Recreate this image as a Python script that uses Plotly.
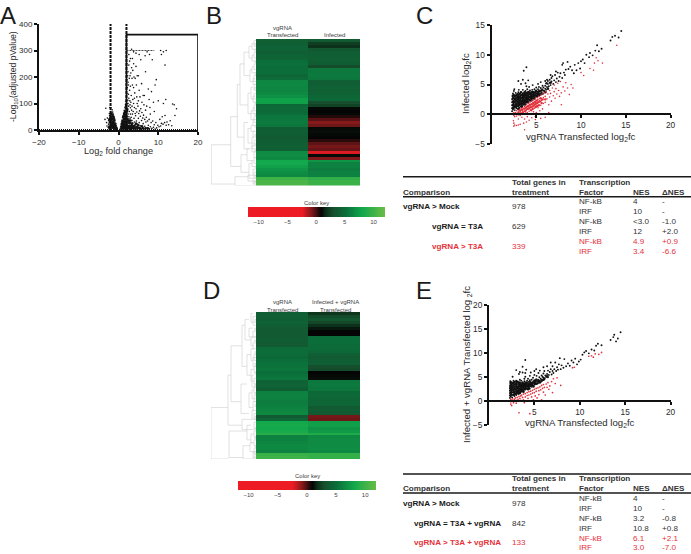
import plotly.graph_objects as go

W, H = 691, 554
FONT = "Liberation Sans"
INK = "#2a2a2a"
RED = "#e5323b"
DOT_RED = "#e0313c"

# ---------- panel A values ----------
volcano_ticks_x = [-20, -10, 0, 10, 20]
volcano_ticks_y = [0, 100, 200, 300, 400]
volcano_floor_x = [-20, 20]
volcano_floor_y = [0, 0]
volcano_cap_x = [2, 9]
volcano_cap_y = [300, 300]
volcano_box_x = [2, 2, 20, 20]
volcano_box_y = [0, 360, 360, 0]
volcano_cut_x = [-2, -2, None, 2, 2]
volcano_cut_y = [0, 400, None, 0, 400]
volcano_points = [
 (-3,28),(-3.4,40),(-2.9,15),(-2.6,10),(-2.8,45),(-2.5,22),(-2.5,35),(-2.4,5),(-2.4,15),(-3.2,82),(-2.2,85),(-2.3,62),(-2.2,45),(-2.3,28),(-2.2,12),(-2.1,5),
 (-2.05,20),(-2,35),(-2,52),(-1.95,70),(-1.9,84),(-1.9,60),(-1.85,42),(-1.85,26),(-1.8,12),(-1.8,4),(-1.7,20),(-1.7,35),(-1.7,50),(-1.65,65),(-1.6,76),(-1.6,8),
 (-1.55,28),(-1.5,44),(-1.5,58),(-1.45,68),(-1.4,16),(-1.4,34),(-1.35,48),(-1.3,60),(-1.3,5),(-1.25,24),(-1.2,38),(-1.15,52),(-1.1,12),(-1.05,30),(-1,42),(-1,4),
 (-0.95,20),(-0.9,34),(-0.85,10),(-0.8,26),(-0.75,4),(-0.7,16),(-0.65,24),(-0.6,8),(-0.55,15),(-0.5,4),(-0.45,10),(-0.4,3),(-0.35,6),
 (0.4,3),(0.5,7),(0.55,14),(0.6,4),(0.65,22),(0.7,10),(0.75,30),(0.8,4),(0.85,18),(0.9,38),(0.95,8),(1,26),(1,46),(1.05,14),(1.1,34),(1.1,4),(1.15,54),(1.2,22),(1.25,42),(1.25,8),
 (1.3,64),(1.35,30),(1.4,50),(1.4,14),(1.45,74),(1.5,38),(1.5,4),(1.55,60),(1.55,22),(1.6,84),(1.65,46),(1.65,10),(1.7,70),(1.7,30),(1.75,96),(1.8,54),(1.8,16),(1.85,80),(1.85,38),
 (1.9,108),(1.9,4),(1.95,62),(1.95,24),(2,90),(2,125),(2,44),(2.05,12),(2.1,70),(2.1,138),(2.15,32),(2.2,100),(2.2,52),(2.25,6),(2.3,80),(2.3,20),(2.35,112),(2.4,42),(2.4,60),
 (2.5,10),(2.5,30),(2.55,90),(2.6,50),(2.7,18),(2.7,70),(2.75,34),(2.8,4),(2.85,110),(2.9,24),(2.9,44),(3,12),(3,60),(3,84),(3.1,30),(3.2,6),(3.2,48),(3.3,20),(3.4,36),(3.5,10),(3.5,60),
 (3.6,26),(3.7,4),(3.8,16),(3.9,44),(4,30),(4.1,8),(4.2,20),(4.3,54),(4.4,12),(4.5,34),(4.6,4),(4.8,22),(5,10),(5,44),(5.2,28),(5.4,6),(5.6,16),(5.8,36),(6,10),(6.2,24),(6.4,4),(6.6,14),(6.9,30),(7.2,8),(7.5,18),(7.8,5),(8,12),(8.4,6),(8.8,10),(9.2,4),(9.6,8),
 (2.2,160),(2.4,180),(2.1,190),(2.5,135),(2.8,150),(3.2,130),(3.6,115),(3,165),(3.4,195),(2.9,205),(2.4,220),(2.6,245),(2.1,250),(3.3,235),(3.9,200),(4.2,195),(4.5,170),(3.8,160),(4.1,140),(4.6,125),(5,110),(5.2,150),(4.9,90),(5.6,80),(5.9,105),(6.2,130),(6.5,130),(6.8,75),(7.1,90),(7.5,155),(8,60),(8.3,145),(9,70),(9.2,170),(9.5,190),(10,110),(10.4,40),(11,50),(11.3,100),(11.7,55),(11.9,115),(10.8,25),(12.2,30),(13,35),(13.6,98),(14,95),(14.2,55),(14.6,80),
 (2.6,285),(3,270),(3.3,305),(3.8,295),(4.4,290),(5.2,285),(5.6,265),(6.7,280),(7.2,295),(7.8,285),(8.5,265),(6.8,220),(4.4,240),(3.8,250),(5,205),(10.6,300),(10.8,285),(11.3,295),(12,300),(11.7,245),
 (2.4,100),(2.6,120),(2.9,95),(3.1,105),(3.3,75),(3.4,90),(3.7,70),(3.8,100),(4,85),(4.2,62),(4.4,80),(4.6,68),(4.7,100),(5.1,62),(5.3,72),(5.5,52),(5.9,66),(6.1,45),(6.3,56),(6.6,40),(7,48),(7.3,34),(7.7,40),(8.2,28),(8.6,34),(9,20),(9.4,28),(9.9,18),(10.2,12),(10.6,15),(11.2,22),(11.6,28),(12,18),(12.6,20),(13.4,16),(2.3,205),(2.7,195),(3.1,215),(3.6,225),(2.8,260),(3.5,270),(2.5,170),(3.5,170),(4.7,205),(5.8,175),(6.4,95),(7.7,115),(4,120),(5.4,125),(8.8,105),(7.9,85),
]
volcano_core = [
 (-2.3,10),(-2.3,40),(-2.1,30),(-2.1,55),(-1.95,15),(-1.95,45),(-1.75,28),(-1.75,60),(-1.6,18),(-1.6,40),(-1.5,10),(-1.5,25),(-1.4,52),(-1.3,30),(-1.3,14),(-1.2,8),(-1.2,46),(-1.1,22),(-1.05,38),(-1,14),(-0.9,6),(-0.8,18),(-0.7,8),(-0.55,6),
 (0.8,12),(0.9,24),(1,6),(1,34),(1.1,18),(1.2,32),(1.2,50),(1.3,10),(1.3,24),(1.4,40),(1.4,60),(1.5,16),(1.5,30),(1.5,52),(1.6,8),(1.6,42),(1.6,68),(1.7,20),(1.7,56),(1.8,6),(1.8,30),(1.8,70),(1.9,16),(1.9,46),(1.9,90),(2,6),(2,30),(2,70),
 (2.2,14),(2.2,40),(2.2,76),(2.4,6),(2.4,28),(2.6,14),(2.6,36),(2.8,10),(2.8,26),(3,4),(3,36),(3.2,16),(3.4,8),(3.4,24),(3.6,14),(3.8,6),(4,16),(4.2,6),(4.4,24),(4.6,12),(4.8,6),(5,18),(5.3,8),(5.6,5),(5.9,14),(6.2,6),(6.8,6),(7.4,6),
]

# ---------- panel B values ----------
heat_b_transfected = [4.1,4.0,4.2,4.2,4.0,4.2,4.3,5.0,5.1,5.0,4.9,5.0,4.4,4.8,6.3,6.4,6.2,6.2,6.4,6.8,7.6,7.6,4.6,4.8,4.7,5.0,5.4,5.5,5.6,5.4,3.9,4.0,3.9,3.8,3.9,4.0,4.1,4.0,6.5,6.6,6.4,8.0,8.1,7.6,7.0,6.6,6.4,10.0,10.5,10.5]
heat_b_infected = [3.8,2.2,1.8,3.5,4.0,4.0,4.1,4.0,3.9,2.9,5.5,5.5,5.6,5.4,4.0,4.0,4.2,4.1,4.2,4.5,4.6,3.0,2.4,0.9,0.8,0.9,0.4,-0.3,-0.9,-0.6,0.9,1.0,0.9,0.8,0.3,-0.4,-0.7,-0.5,-2.2,0.9,-0.8,7.0,6.0,6.0,5.7,6.0,6.0,9.3,9.8,9.8]
dendro_b = [
 (44.7,35.6,49,25.3,21),(25.3,26,43,18.7,15),(21,46.5,49.5,8,3),(18.7,15,33,16,12),(16,8,22,12,8),(15,39,45,9,7),
 (12,4,12,7,6),(12,28,37,8,7),(9,37,41,5,4),(8,18,25,5,4),(8,46,48,3,0),(8,30,35,5,3),(7,2,6,4,3),(7,42,47,4,3),(6,10,14,4,2),
 (5,16,20,3,2),(5,24,27,3,0),(5,29,31,3,1),(4,33,37,2,1),(4,1,3,2,0),(4,5,7,2,0),(4,36,38,2,0),(4,41,43,2,0),(4,9,11,2,0),(3,13,15,1,0),(3,19,21,1,0),(3,23,25,1,0),
 (3,27,29,1,0),(3,31,33,0,0),(3,44,46,1,0),(3,47,49,0,0),(2,0,2,0,0),(2,4,6,0,0),(2,8,10,0,0),(2,12,14,0,0),(2,15,17,0,0),(2,18,20,0,0),(2,22,24,0,0),(2,26,28,0,0),(2,34,36,0,0),(2,38,40,0,0),(2,40,42,0,0),(2,45,47,0,0),(2,48,49.5,0,0),
 (1.2,1,1.6,0,0),(1.2,3,3.6,0,0),(1.2,7,7.6,0,0),(1.2,11,11.6,0,0),(1.2,16,16.6,0,0),(1.2,21,21.6,0,0),(1.2,25,25.6,0,0),(1.2,29,29.6,0,0),(1.2,32,32.6,0,0),(1.2,35,35.6,0,0),(1.2,37,37.6,0,0),(1.2,43,43.6,0,0),(1.2,46,46.6,0,0),(1.2,48,48.6,0,0),
]

# ---------- panel D values ----------
heat_d_transfected = [4.0,4.1,4.0,4.2,4.0,3.8,3.8,3.7,3.8,3.9,3.7,3.8,4.8,4.9,4.8,4.6,5.0,5.2,5.2,5.4,5.0,5.2,5.4,4.2,4.3,4.2,3.9,6.0,6.1,6.0,5.7,5.8,6.0,6.2,6.4,3.7,4.5,8.0,8.2,8.0,8.3,9.0,5.9,6.0,6.2,6.4,6.4,6.1,9.7,10.0]
heat_d_infected = [1.9,2.8,3.5,2.6,1.8,1.2,0.8,0.8,5.0,5.0,5.0,4.8,4.8,4.6,4.0,3.8,4.0,4.0,3.0,2.8,0.8,0.9,1.0,5.5,5.6,5.5,5.4,4.6,4.7,4.5,4.5,4.4,3.8,3.9,3.7,-0.7,-0.6,7.5,7.6,7.0,7.2,8.6,6.4,6.5,6.5,6.5,6.6,6.4,9.5,9.5]
dendro_d = [
 (45,32,49.5,28,27),(28,21,38,25,14),(27,40,49,9,13),(25,11,30,14,15),(15,24,34,9,7),(14,36,39.5,4,2),(14,4,18,11,9),(13,45,49.5,6,3),(11,2,9,7,5),(9,14,21,5,5),
 (9,38,43,5,5),(7,27,32,4,3),(7,5,8,3,0),(6,44,47,3,2),(5,0,3,3,0),(5,8,11,3,2),(5,12,16,2,3),(5,19,23,2,2),(5,41,44,2,2),(4,21,25,2,0),(4,26,29,2,0),(4,33,36,2,0),
 (3,1,4,0,0),(3,6,8,0,0),(3,10,12,0,0),(3,15,18,0,0),(3,30,33,0,0),(3,47,49,0,0),(2,14,16,0,0),(2,18,20,0,0),(2,22,24,0,0),(2,25,27,0,0),(2,28,30,0,0),(2,34,36,0,0),(2,37,39,0,0),(2,40,42,0,0),(2,43,45,0,0),(2,46,48,0,0),(2,48.5,49.5,0,0),
 (1.2,2,2.6,0,0),(1.2,5,5.6,0,0),(1.2,9,9.6,0,0),(1.2,13,13.6,0,0),(1.2,17,17.6,0,0),(1.2,20,20.6,0,0),(1.2,24,24.6,0,0),(1.2,27,27.6,0,0),(1.2,31,31.6,0,0),(1.2,35,35.6,0,0),(1.2,39,39.6,0,0),(1.2,42,42.6,0,0),(1.2,45,45.6,0,0),(1.2,47,47.6,0,0),
]

key_values = [-12,-10,-8,-6,-4,-2.5,-1.5,-1,-0.5,0,0.4,0.8,1.2,1.6,2,3,4,5,6,7,8,9,10,11,12]
key_ticks = [-10,-5,0,5,10]
key_colors = [[0,"#ed1c24"],[0.396,"#ed1c24"],[0.46,"#8a1a1c"],[0.533,"#050505"],[0.583,"#0e3a1f"],[0.625,"#164f2d"],[0.708,"#0b6e3a"],[0.833,"#12a84c"],[1,"#6dbd45"]]

# ---------- panel C values ----------
scatter_ticks_x = [5,10,15,20]
scatter_c_ticks_y = [-5,0,5,10,15]
scatter_e_ticks_y = [-5,0,5,10,15,20]
c_black = [
 (2.3,.5),(2.3,1),(2.3,1.5),(2.3,2),(2.3,2.5),(2.35,3),(2.4,3.5),(2.4,.8),(2.45,1.3),(2.45,1.8),(2.5,2.3),(2.5,2.8),(2.5,3.3),(2.5,3.9),(2.55,4.2),(2.6,.7),(2.6,1.1),(2.65,1.6),(2.65,2.1),(2.7,2.6),(2.7,3.1),(2.7,3.6),
 (2.8,1),(2.8,1.4),(2.85,1.9),(2.85,2.4),(2.9,2.9),(2.9,3.4),(2.95,.9),(3,1.3),(3,1.7),(3,2.2),(3,2.7),(3,3.2),(3,3.7),(3.05,4.1),(3.1,1.1),(3.15,1.5),(3.15,2),(3.2,2.5),(3.2,3),(3.2,3.5),(3.25,1.3),
 (3.3,1.8),(3.3,2.3),(3.35,2.8),(3.35,3.3),(3.4,1.5),(3.4,2),(3.45,2.5),(3.5,3),(3.5,3.5),(3.5,4.1),(3.55,1.6),(3.6,2.1),(3.6,2.6),(3.65,3.1),(3.7,1.9),(3.7,2.4),(3.75,2.9),(3.75,3.4),(3.8,3.9),(3.8,2),(3.85,2.6),
 (3.9,3.1),(3.95,2.2),(4,2.7),(4,3.2),(4,3.7),(4,4.2),(4.05,2.3),(4.1,2.9),(4.15,3.4),(4.2,2.5),(4.2,3),(4.25,3.6),(4.3,4),(4.35,2.7),(4.4,3.2),(4.4,3.7),(4.45,2.6),(4.5,3),(4.5,3.5),(4.55,4.1),(4.6,2.9),(4.65,3.3),(4.7,3.8),
 (4.75,3),(4.8,3.4),(4.8,4.2),(4.85,2.9),(4.9,3.6),(5,3.1),(5,3.5),(5,4),(5,4.5),(5.05,3.2),(5.1,3.8),(5.2,3.3),(5.2,4.2),(5.25,3.6),(5.3,4.6),(5.4,3.5),(5.4,4),(5.5,3.8),(5.5,4.4),(5.6,3.6),(5.65,4.2),(5.7,4.8),(5.8,4),(5.8,4.5),
 (5.9,3.9),(6,4.3),(6,4.8),(6.1,4.1),(6.2,4.6),(6.3,5.1),(6.3,5.6),(6.4,4.7),(6.5,5.3),(6.5,5.8),(6.6,4.9),(6.7,5.5),(6.7,6.1),(6.8,6.4),(6.9,5.1),(7,5.7),(7.1,6.6),(7.2,5.4),(7.3,6),(7.4,7),(7.5,5.6),(7.6,6.3),(7.7,6.9),
 (7.9,6.1),(7.9,8.3),(8,8.6),(8.1,7),(8.2,6.6),(8.3,7.5),(8.5,8.8),(8.6,7.6),(8.8,8),(9,7.4),(9.2,6.9),(9.3,8.3),(9.5,7.4),(9.7,8.6),(9.9,7.7),(10,8.9),(10.2,9.2),(10.4,8.6),(10.6,10),(10.9,9.6),(11,10.3),(11.3,9.9),(11.6,10.7),(11.8,11.6),(12,10.6),(12.3,11),
 (13.3,12.4),(13.5,13),(13.8,13.2),(14.2,12.9),(14.5,14),(3,5.6),(3.3,5.1),(3.5,5.8),(3.8,5.2),(3.9,4.7),(4.1,5.7),(3.6,7.3),(3.9,7.9),(4.2,4.6),(5.5,5.4),(5.2,5.1),(6,5.6),(4.6,4.9),(6.2,5.8),(7.2,7.2),(6.6,6.6),
]
c_black_core = [
 (2.4,1.05),(2.4,1.55),(2.4,2.15),(2.4,2.7),(2.4,3.15),(2.55,1.4),(2.55,2),(2.6,2.55),(2.6,3.05),(2.75,1.25),(2.75,1.7),(2.75,2.25),(2.8,2.8),(2.8,3.25),(2.95,1.45),(2.95,2),(2.95,2.5),(3,3),(3.05,.85),(3.1,1.75),(3.1,2.3),(3.1,2.8),(3.1,3.35),
 (3.25,1.7),(3.25,2.15),(3.25,2.7),(3.3,3.15),(3.3,3.7),(3.4,1.25),(3.45,1.8),(3.45,2.25),(3.5,2.75),(3.5,3.25),(3.6,1.85),(3.6,2.35),(3.6,2.9),(3.65,3.4),(3.7,3.7),(3.75,1.65),(3.75,2.2),(3.8,2.75),(3.85,3.25),(3.9,2),(3.9,2.45),(3.95,2.85),(3.95,3.5),
 (4.05,2.05),(4.1,2.55),(4.1,3.15),(4.15,3.75),(4.3,2.3),(4.3,2.9),(4.3,3.4),(4.45,2.35),(4.45,2.85),(4.5,3.25),(4.55,3.75),(4.65,2.65),(4.7,3.1),(4.75,3.55),(4.8,2.65),(4.9,3.2),(4.95,3.85),(5.1,3),(5.15,3.5),(5.3,3.2),(5.3,3.85),(5.45,3.3),(5.6,4),(5.7,3.45),(6,3.7),(6.15,5.2),(6.3,4.3),(6.6,5.3),
]
c_red = [
 (2.4,.1),(2.5,.3),(2.5,-.2),(2.6,-.4),(2.45,-1.1),(2.5,-1.5),(2.6,-1.8),(2.8,-1.9),(3,-1.8),(3.2,-1.7),(3.6,-1.5),(3.9,-1.3),(2.7,.3),(2.8,.6),(2.8,-.3),(2.9,.1),(3,.5),(3,-.1),(3,-.8),(3.1,.8),(3.2,.3),(3.2,-.2),(3.3,.7),(3.3,1),
 (3.4,.2),(3.4,-.5),(3.5,.6),(3.5,1.1),(3.6,.9),(3.6,.1),(3.7,1.3),(3.7,.5),(3.7,-.8),(3.8,1.1),(3.8,.2),(3.9,1.6),(3.9,.7),(4,1.3),(4,.3),(4,-.4),(4.1,1.8),(4.1,.9),(4.2,1.4),(4.2,.5),(4.2,-1),(4.3,2),(4.3,1.1),(4.4,1.6),(4.4,.1),
 (4.5,2.2),(4.5,1.2),(4.5,.6),(4.5,-.6),(4.6,1.9),(4.7,2.4),(4.7,1.4),(4.7,.4),(4.8,2.1),(4.8,1),(4.9,2.6),(4.9,1.6),(4.9,-.4),(5,2.3),(5,1.2),(5,.3),(5.1,2.8),(5.1,1.8),(5.2,2.5),(5.2,1.1),(5.3,3),(5.3,2),(5.4,.6),(5.4,2.6),
 (5.5,3.2),(5.5,1.5),(5.6,2.3),(5.7,3.4),(5.7,.9),(5.8,2.8),(5.8,1.8),(5.9,3.6),(6,3),(6,2),(6,-.5),(6.1,3.8),(6.2,2.6),(6.3,3.4),(6.4,1.6),(6.5,4),(6.5,2.9),(6.6,3.5),(6.7,2.2),(6.8,4.4),(6.9,3.1),(7,4.9),(7,3.8),(7.1,2.7),
 (7.2,4.3),(7.3,3.4),(7.4,5.2),(7.5,4),(7.6,3),(7.7,5.5),(7.8,3.6),(7.8,1.6),(8,4.6),(8.2,3.9),(8.3,5.3),(8.5,4.4),(8.7,3.3),(8.9,5),(9.1,4.4),(10,7),(10.3,6.5),(11,7.7),(11.4,7.4),(11.5,8.6),(11.7,9.5),(11.9,9),(12.4,8.6),(14,11.6),(6.4,.3),(2.5,-2),(3.7,-2.6),(4.9,-.9),(5.5,-.7),
]
c_red_core = [
 (3,.2),(3.2,.6),(3.4,.8),(3.5,.35),(3.7,.95),(3.8,.6),(3.9,1.2),(4,.9),(4.1,1.4),(4.2,1),(4.3,1.6),(4.4,1.2),(4.4,.7),(4.5,1.7),(4.6,1.3),(4.6,.9),(4.7,1.9),(4.8,1.6),(4.9,2.1),(4.9,1.2),(5,1.8),(5.1,1.4),(5.1,2.3),(5.2,2),(5.3,1.5),(5.4,2.2),(5.5,2.7),(5.6,1.9),(5.7,2.5),(6,2.5),
]
# ---------- panel E values ----------
e_black = [
 (2.3,.6),(2.3,1.1),(2.3,1.6),(2.3,2.1),(2.3,2.6),(2.3,3.1),(2.35,3.6),(2.35,4.1),(2.4,.9),(2.45,1.4),(2.45,1.9),(2.5,2.4),(2.5,2.9),(2.5,3.4),(2.5,3.9),(2.55,.7),(2.6,1.2),(2.6,1.7),(2.65,2.2),(2.65,2.7),(2.7,3.2),(2.7,3.7),(2.7,4.2),
 (2.8,1),(2.8,1.5),(2.85,2),(2.85,2.5),(2.9,3),(2.9,3.5),(2.95,4),(3,1.2),(3,1.7),(3,2.2),(3,2.7),(3,3.2),(3,3.7),(3,4.2),(3.1,1.5),(3.15,2),(3.15,2.5),(3.2,3),(3.2,3.5),(3.2,4),(3.25,1.4),(3.3,1.9),(3.3,2.4),(3.35,2.9),(3.35,3.4),(3.4,3.9),(3.4,4.4),
 (3.45,1.7),(3.5,2.2),(3.5,2.7),(3.5,3.2),(3.5,3.7),(3.55,4.2),(3.6,1.9),(3.6,2.4),(3.65,2.9),(3.7,3.4),(3.7,3.9),(3.75,2.1),(3.8,2.6),(3.8,3.1),(3.85,3.6),(3.9,4.1),(3.9,4.6),(3.95,2.3),(4,2.8),(4,3.3),(4,3.8),(4,5),(4.05,2.4),(4.1,3),(4.15,3.5),(4.2,4.2),
 (4.2,2.6),(4.25,3.1),(4.3,3.7),(4.3,4.6),(4.35,2.8),(4.4,3.3),(4.4,4),(4.45,2.9),(4.5,3.5),(4.5,4.3),(4.5,5.2),(4.6,3.1),(4.65,3.7),(4.7,4.4),(4.7,2.9),(4.8,3.4),(4.8,3.9),(4.85,4.8),(4.9,3.2),(5,3.7),(5,4.3),(5,5.4),(5.05,3.4),(5.1,3.9),
 (5.2,3.5),(5.2,4.5),(5.25,5.2),(5.3,4),(5.4,3.7),(5.4,4.4),(5.45,5.8),(5.5,4),(5.55,4.9),(5.6,4.2),(5.7,3.9),(5.7,4.6),(5.8,5.3),(5.85,4.4),(5.9,5),(6,4.3),(6,4.8),(6,5.7),(6.1,6.2),(6.15,4.7),(6.2,5.3),(6.3,5),(6.4,5.6),(6.5,6.3),(6.5,4.9),
 (6.6,5.4),(6.7,6),(6.8,6.6),(6.9,5.5),(7,6.2),(7,7.2),(7.1,5.8),(7.2,6.6),(7.3,8),(7.4,6.2),(7.5,7),(7.6,6.5),(7.7,7.6),(7.8,8.9),(7.9,6.6),(8,7.4),(8.2,6.9),(8.3,8.7),(8.5,7.2),(8.7,7.8),(8.9,7.3),(9.1,8.4),(9.3,8),(9.5,8.8),(9.7,7.6),(9.9,8.2),(10.1,8.6),
 (10.3,9.6),(10.5,10.1),(10.7,10.4),(11,9.9),(11.3,10.7),(11.6,10.5),(11.8,11.5),(12,11.9),(12.4,11.6),(13.4,12.7),(13.7,13.3),(14,12.4),(14.2,13),(14.5,14.3),(13.8,13.8),
 (3,6.4),(3.3,5.6),(3.7,5.9),(3.4,6),(4,5.8),(4.1,6.5),(3.7,7.1),(4,8.5),(2.6,5),(4.6,5.9),(5.2,6.6),(5,6.2),(6,7),(6.4,7.2),(5.6,6.3),(6.8,8),
]
e_black_core = [
 (2.4,1.2),(2.4,1.7),(2.4,2.3),(2.4,2.8),(2.4,3.3),(2.4,3.8),(2.55,2.15),(2.55,2.65),(2.6,3.15),(2.6,3.65),(2.75,1.25),(2.75,1.8),(2.75,2.35),(2.8,2.85),(2.8,3.4),(2.8,3.9),(2.95,1.45),(2.95,2.45),(3,3.45),(3.05,2),(3.1,2.9),(3.1,3.95),(3.2,1.75),(3.25,2.2),(3.25,2.65),(3.3,3.2),(3.3,3.7),
 (3.4,1.6),(3.45,2.1),(3.45,2.5),(3.5,3),(3.5,3.45),(3.6,2.15),(3.6,2.7),(3.65,3.2),(3.7,2.35),(3.7,3.7),(3.8,1.9),(3.8,2.85),(3.85,3.35),(3.9,2.5),(3.95,3.05),(4,3.6),(4.05,2.6),(4.1,3.25),(4.15,3.8),(4.3,2.4),(4.3,3),(4.35,3.45),(4.45,2.55),(4.5,3.2),(4.55,3.85),(4.65,3.4),(4.7,3.2),(4.8,3.65),(4.9,3),(4.95,4),(5.1,3.6),(5.15,4.2),(5.3,3.6),(5.45,4.2),(5.6,3.8),(5.8,4.2),(6.05,4.5),(6.4,5.1),
]
e_red = [
 (2.4,.3),(2.4,-.2),(2.4,-.7),(2.5,-1),(2.5,.1),(2.6,.4),(2.7,-.4),(2.8,.3),(2.9,.6),(3,.1),(3,-.5),(3.1,.7),(3.2,.3),(3.3,.9),(3.3,-2.5),(3.4,.5),(3.5,1),(3.5,.1),(3.6,1.2),(3.7,.7),(3.8,1.4),(3.8,.2),(3.9,-.4),(4,1.5),(4,.8),(4.1,-.1),
 (4.2,1.7),(4.2,1.1),(4.3,.5),(4.4,1.9),(4.4,1.2),(4.5,-2.7),(4.6,2),(4.6,1.4),(4.7,.8),(4.8,2.2),(4.8,1.6),(4.9,.2),(5,2.4),(5,1.7),(5.1,1),(5.2,2.6),(5.2,2),(5.3,.6),(5.4,2.7),(5.5,2.1),(5.5,1.3),(5.6,2.9),(5.7,2.3),(5.8,3.2),(5.8,.2),(5.9,2.6),(6,3.4),(6,1.8),
 (6.1,2.8),(6.2,1.2),(6.3,3.5),(6.4,2.8),(6.5,3.8),(6.6,2.4),(6.7,3.1),(6.9,4),(7,1.7),(7.1,4.6),(7.3,3.6),(7.5,4.8),(7.9,3.2),(9.2,6.9),(9.4,7),(11,9.3),(11.3,9.4),(11.5,9.1),(11.7,9.8),(12.1,9.7),(12.4,10.1),
]

# ---------- table values ----------
table_head_1 = ["Total genes in", "Transcription"]
table_head_2 = ["Comparison", "treatment", "Factor", "NES", "\u0394NES"]
upper_labels = ["vgRNA > Mock", "vgRNA = T3A", "vgRNA > T3A"]
lower_labels = ["vgRNA > Mock", "vgRNA = T3A + vgRNA", "vgRNA > T3A + vgRNA"]
upper_totals = ["978", "629", "339"]
lower_totals = ["978", "842", "133"]
factor_names = ["NF-kB", "IRF", "NF-kB", "IRF", "NF-kB", "IRF"]
upper_nes = ["4", "10", "<3.0", "12", "4.9", "3.4"]
upper_dnes = ["-", "-", "-1.0", "+2.0", "+0.9", "-6.6"]
lower_nes = ["4", "10", "3.2", "10.8", "6.1", "3.0"]
lower_dnes = ["-", "-", "-0.8", "+0.8", "+2.1", "-7.0"]


def dx(a, b):
    return [a / W, b / W]


def dy(top, bottom):
    return [1 - bottom / H, 1 - top / H]


fig = go.Figure()
ann = []
shp = []


def text(x, y, s, size=8, color=INK, bold=False, anchor="left", angle=0, family=FONT):
    ann.append(dict(x=x / W, y=1 - y / H, xref="paper", yref="paper", text=f"<b>{s}</b>" if bold else s,
                    showarrow=False, xanchor=anchor, yanchor="middle", textangle=angle, borderpad=0, borderwidth=0,
                    font=dict(family=family, size=size, color=color)))


def hline(x0, x1, y, width=1.5):
    shp.append(dict(type="line", xref="paper", yref="paper", x0=x0 / W, x1=x1 / W, y0=1 - y / H, y1=1 - y / H,
                    line=dict(color="#1a1a1a", width=width)))


def scatter(points, color, xa, ya, size):
    fig.add_trace(go.Scatter(x=[p[0] for p in points], y=[p[1] for p in points], mode="markers", xaxis=xa, yaxis=ya,
                             marker=dict(color=color, size=size, line=dict(width=0)), hoverinfo="skip", showlegend=False))


def line(xs, ys, xa, ya, width, dash="solid", color="#111111"):
    fig.add_trace(go.Scatter(x=xs, y=ys, mode="lines", xaxis=xa, yaxis=ya, line=dict(color=color, width=width, dash=dash),
                             hoverinfo="skip", showlegend=False))


axes = {}


def data_axis(dom, rng, ticks, anchor, **kw):
    d = dict(domain=dom, range=rng, tickmode="array", tickvals=ticks, showgrid=False, zeroline=False, showline=True,
             linecolor="#111111", linewidth=2, ticks="outside", ticklen=3, tickwidth=1.5, tickcolor="#111111", automargin=False,
             tickfont=dict(family=FONT, size=8.3, color=INK), anchor=anchor)
    d.update(kw)
    return d


# panel A
line(volcano_floor_x, volcano_floor_y, "x", "y", 2, "1px,1px")
line(volcano_cut_x, volcano_cut_y, "x", "y", 2, "3px,1px")
line(volcano_box_x, volcano_box_y, "x", "y", 1.6)
line(volcano_cap_x, volcano_cap_y, "x", "y", 1.2, "2px,1px", "#444444")
scatter(volcano_points, "#111111", "x", "y", 1.6)
scatter(volcano_core, "#111111", "x", "y", 2.6)
axes["xaxis"] = data_axis(dx(39, 198), [-20, 20], volcano_ticks_x, "y", tickfont=dict(family=FONT, size=8, color=INK))
axes["yaxis"] = data_axis(dy(24, 130), [0, 400], volcano_ticks_y, "x", tickfont=dict(family=FONT, size=8, color=INK))


# heat maps
def heat(col1, col2, xa, ya):
    fig.add_trace(go.Heatmap(z=[[a, b] for a, b in zip(col1, col2)], xaxis=xa, yaxis=ya, zmin=-12, zmax=12,
                             colorscale=key_colors, showscale=False, hoverinfo="skip", xgap=0, ygap=0))


def hidden(dom, rng):
    return dict(domain=dom, range=rng, visible=False, fixedrange=True, automargin=False)


def dendro(items, xa, ya):
    xs, ys = [], []
    for h, r1, r2, c1, c2 in items:
        xs += [c1, h, h, c2, None]
        ys += [r1, r1, r2, r2, None]
    line(xs, ys, xa, ya, 0.6, "solid", "#cccccc")


def key(xa, ya):
    fig.add_trace(go.Heatmap(z=[key_values], x=key_values, y=[0], xaxis=xa, yaxis=ya, zmin=-12, zmax=12, zsmooth="best",
                             colorscale=key_colors, showscale=False, hoverinfo="skip"))


heat(heat_b_transfected, heat_b_infected, "x2", "y2")
axes["xaxis2"] = hidden(dx(256, 360), [-0.5, 1.5])
axes["yaxis2"] = hidden(dy(39, 185.5), [49.5, -0.5])
dendro(dendro_b, "x3", "y3")
axes["xaxis3"] = hidden(dx(211, 256), [45, 0])
axes["yaxis3"] = hidden(dy(39, 185.5), [49.5, -0.5])
key("x4", "y4")
axes["xaxis4"] = dict(domain=dx(248, 385), range=[-11.85, 12], tickmode="array", tickvals=key_ticks, ticks="", showgrid=False, automargin=False,
                      zeroline=False, tickfont=dict(family=FONT, size=6, color="#444444"), anchor="y4", ticklen=0)
axes["yaxis4"] = hidden(dy(207, 217), [-0.5, 0.5])

heat(heat_d_transfected, heat_d_infected, "x5", "y5")
axes["xaxis5"] = hidden(dx(256, 360), [-0.5, 1.5])
axes["yaxis5"] = hidden(dy(312, 459), [49.5, -0.5])
dendro(dendro_d, "x6", "y6")
axes["xaxis6"] = hidden(dx(211, 256), [45, 0])
axes["yaxis6"] = hidden(dy(312, 459), [49.5, -0.5])
key("x7", "y7")
axes["xaxis7"] = dict(domain=dx(238, 376), range=[-11.8, 11.85], tickmode="array", tickvals=key_ticks, ticks="", showgrid=False, automargin=False,
                      zeroline=False, tickfont=dict(family=FONT, size=6, color="#444444"), anchor="y7", ticklen=0)
axes["yaxis7"] = hidden(dy(481, 490), [-0.5, 0.5])

# panel C
scatter(c_black, "#111111", "x8", "y8", 1.9)
scatter(c_black_core, "#111111", "x8", "y8", 2.6)
scatter(c_red, DOT_RED, "x8", "y8", 1.6)
scatter(c_red_core, DOT_RED, "x8", "y8", 2.4)
axes["xaxis8"] = data_axis(dx(491.5, 670.5), [0, 20], scatter_ticks_x, "free", position=1 - 114 / H)
axes["yaxis8"] = data_axis(dy(25, 144), [-5, 15], scatter_c_ticks_y, "x8")

# panel E
scatter(e_black, "#111111", "x9", "y9", 1.9)
scatter(e_black_core, "#111111", "x9", "y9", 2.6)
scatter(e_red, DOT_RED, "x9", "y9", 1.7)
axes["xaxis9"] = data_axis(dx(489, 670.5), [0, 20], scatter_ticks_x, "free", position=1 - 400.7 / H)
axes["yaxis9"] = data_axis(dy(305, 424.7), [-5, 20], scatter_e_ticks_y, "x9")

# panel letters
for s, x, y in [("A", 0, 15), ("B", 206, 15), ("C", 416, 15), ("D", 203, 290), ("E", 416, 290)]:
    text(x, y, s, size=24, color="#1a1a1a")

# axis titles
text(118.5, 151, "Log<sub>2</sub> fold change", size=9.2, anchor="center")
text(14, 77, "-Log<sub>10</sub>(adjusted pValue)", size=8.6, anchor="center", angle=-90)
text(581, 137, "vgRNA Transfected log<sub>2</sub>fc", size=9.6, anchor="center")
text(466, 84, "Infected log<sub>2</sub>fc", size=9.6, anchor="center", angle=-90)
text(580, 423, "vgRNA Transfected log<sub>2</sub>fc", size=9.6, anchor="center")
text(467, 364, "Infected + vgRNA Transfected log <sub>2</sub>fc", size=9.6, anchor="center", angle=-90)

# heat map headers
for s, x, y in [("vgRNA", 282, 28), ("Transfected", 282, 35), ("Infected", 334, 35),
                ("vgRNA", 282, 302), ("Transfected", 282, 310), ("Infected + vgRNA", 335, 302), ("Transfected", 335, 310)]:
    text(x, y, s, size=6, color="#3a3a3a", anchor="center")
text(316, 203, "Color key", size=6, color="#3a3a3a", anchor="center")
text(307, 476, "Color key", size=6, color="#3a3a3a", anchor="center")

TABLE_SIZE = 8.1


def table(top, rule, head1_y, head2_y, row_ys, label_ys, label_x, labels, totals, nes, dnes):
    hline(403, 691, top)
    hline(403, 691, rule)
    text(511.7, head1_y, table_head_1[0], size=TABLE_SIZE, bold=True, color="#333333")
    text(578.7, head1_y, table_head_1[1], size=TABLE_SIZE, bold=True, color="#333333")
    for s, x in zip(table_head_2, [403, 511.7, 578.7, 632.7, 662.3]):
        text(x, head2_y, s, size=TABLE_SIZE, bold=True, color="#333333")
    for i, y in enumerate(row_ys):
        c = RED if i >= 4 else "#333333"
        text(578.7, y, factor_names[i], size=TABLE_SIZE, color=c)
        text(632.7, y, nes[i], size=TABLE_SIZE, color=c)
        text(662.3, y, dnes[i], size=TABLE_SIZE, color=c)
    for i, y in enumerate(label_ys):
        c = RED if i == 2 else "#1a1a1a"
        text(label_x[i], y, labels[i], size=TABLE_SIZE, bold=True, color=c)
        text(511.7, y, totals[i], size=TABLE_SIZE, color=RED if i == 2 else "#333333")


table(176.7, 196.7, 182.2, 192.2, [201.8, 211.8, 221.8, 231.8, 241.8, 251.5], [206.8, 226.8, 246.5],
      [403, 431.7, 431.7], upper_labels, upper_totals, upper_nes, upper_dnes)
table(474, 493, 478.8, 488.5, [498.2, 508.5, 518.5, 528.2, 538.2, 547.8], [503.2, 523.2, 542.8],
      [403, 414, 414], lower_labels, lower_totals, lower_nes, lower_dnes)

fig.update_layout(template="none", width=W, height=H, margin=dict(l=0, r=0, t=0, b=0, pad=0, autoexpand=False), paper_bgcolor="white", plot_bgcolor="rgba(0,0,0,0)",
                  showlegend=False, annotations=ann, shapes=shp, **axes)
fig.write_html("out.html", post_script="document.body.style.margin='0';document.body.style.overflow='hidden';",
               config={"displayModeBar": False})
